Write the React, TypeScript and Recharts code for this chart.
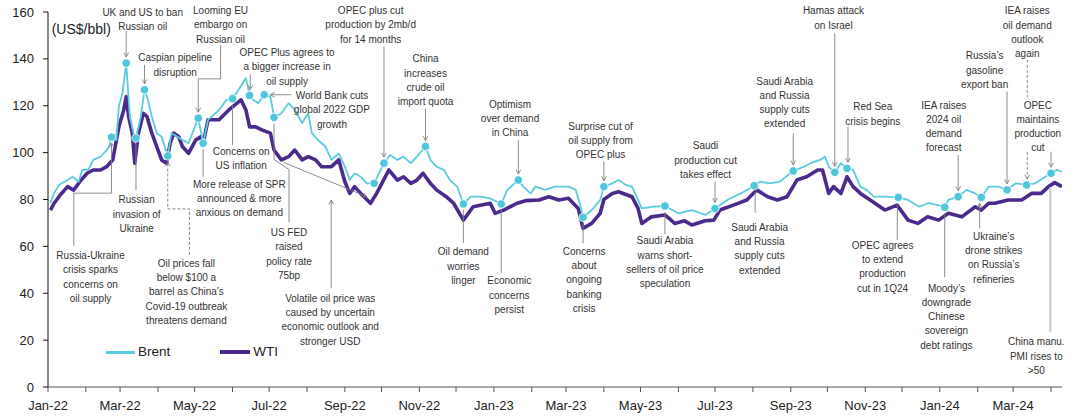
import React from 'react';
import { LineChart, Line, XAxis, YAxis, ReferenceDot, Legend } from 'recharts';

const BRENT = '#5BCBE0';
const WTI = '#4A2A8C';
const DOT = '#4EC6DC';

const brentDates = [
  '2022-01-03','2022-01-06','2022-01-10','2022-01-17','2022-01-21','2022-01-26','2022-01-29',
  '2022-02-03','2022-02-07','2022-02-13','2022-02-17','2022-02-20','2022-02-22','2022-02-26','2022-02-28',
  '2022-03-03','2022-03-06','2022-03-09','2022-03-12','2022-03-14','2022-03-18','2022-03-21','2022-03-23','2022-03-27','2022-03-31',
  '2022-04-04','2022-04-09','2022-04-12','2022-04-17','2022-04-21','2022-04-26',
  '2022-05-04','2022-05-08','2022-05-12','2022-05-21','2022-05-27',
  '2022-06-01','2022-06-06','2022-06-12','2022-06-15','2022-06-18','2022-06-22','2022-06-27',
  '2022-07-02','2022-07-04','2022-07-05','2022-07-11','2022-07-17','2022-07-22','2022-07-28',
  '2022-08-02','2022-08-05','2022-08-10','2022-08-16','2022-08-21','2022-08-27',
  '2022-09-01','2022-09-05','2022-09-09','2022-09-14','2022-09-19','2022-09-25',
  '2022-10-03','2022-10-08','2022-10-14','2022-10-19','2022-10-25','2022-10-30',
  '2022-11-06','2022-11-10','2022-11-15','2022-11-21','2022-11-26',
  '2022-12-02','2022-12-07','2022-12-13','2022-12-21','2022-12-29',
  '2023-01-07','2023-01-12','2023-01-21','2023-01-25','2023-01-31',
  '2023-02-04','2023-02-12','2023-02-20',
  '2023-03-03','2023-03-09','2023-03-13','2023-03-15','2023-03-22','2023-03-29',
  '2023-04-01','2023-04-08','2023-04-13','2023-04-19','2023-04-24','2023-04-29',
  '2023-05-02','2023-05-10','2023-05-21',
  '2023-06-01','2023-06-12','2023-06-23',
  '2023-07-01','2023-07-11','2023-07-22',
  '2023-08-02','2023-08-07','2023-08-15','2023-08-23',
  '2023-09-03','2023-09-12','2023-09-17','2023-09-25','2023-09-29',
  '2023-10-02','2023-10-07','2023-10-12','2023-10-17','2023-10-22','2023-10-28',
  '2023-11-02','2023-11-08','2023-11-17','2023-11-28',
  '2023-12-06','2023-12-15','2023-12-23','2023-12-31',
  '2024-01-05','2024-01-08','2024-01-16','2024-01-23','2024-01-30',
  '2024-02-04','2024-02-10','2024-02-18','2024-02-25',
  '2024-03-03','2024-03-12','2024-03-19',
  '2024-04-01','2024-04-06','2024-04-10',
];
const brentValues = [
  78.4, 82.6, 86.2, 88.3, 89.7, 87.6, 92.6,
  92.6, 96.9, 98.3, 100.4, 102.6, 106.6, 105.4, 119.7,
  125.4, 138.2, 115.4, 108.3, 106.2, 115.4, 126.8, 124, 115.4, 108.3,
  106.8, 98.6, 108.3, 106.8, 105.4, 104,
  114.7, 104, 114, 118.2, 122.5,
  123, 126.8, 131.8, 124.4, 122.5, 121.1, 124.7,
  123.9, 118.2, 115, 116.8, 121.1, 118.2, 112.6,
  116.8, 108.3, 105.4, 102.6, 96.9, 99.7,
  94, 88.3, 91.2, 89.7, 86.9, 86.9,
  95.5, 99, 96.9, 98.3, 95.5, 98.3,
  102.6, 96.9, 94, 92.6, 88.3,
  85.5, 78.1, 81.2, 81.2, 80.5,
  78.1, 84.1, 88.3, 85.5, 82.6,
  85.5, 84.1, 85.5,
  85.5, 84.1, 76.9, 72.4, 75.5, 79.8,
  85.5, 86.9, 88.3, 86.2, 85.5, 79.8,
  76.2, 76.9, 77.2,
  74.1, 75.5, 73.4,
  76.2, 79.8, 82.6,
  85.9, 87.6, 86.9, 87.6,
  92.2, 94, 95.5, 96.9, 98.3,
  94, 91.6, 95.5, 93.3, 92.6, 85.5,
  84.1, 81.2, 81.2, 80.9,
  79.8, 76.9, 78.5, 77.5,
  76.7, 79.8, 81.2, 84.1, 82.6,
  80.9, 85.5, 85.5, 84.1,
  86.9, 86.2, 86.9,
  91.2, 92.6, 91.9,
];

const wtiDates = [
  '2022-01-03','2022-01-06','2022-01-11','2022-01-17','2022-01-22','2022-01-27',
  '2022-02-02','2022-02-07','2022-02-13','2022-02-18','2022-02-23','2022-02-28',
  '2022-03-04','2022-03-06','2022-03-08','2022-03-11','2022-03-13','2022-03-16','2022-03-20','2022-03-23','2022-03-27','2022-03-31',
  '2022-04-04','2022-04-08','2022-04-11','2022-04-14','2022-04-18','2022-04-21','2022-04-26',
  '2022-05-02','2022-05-06','2022-05-08','2022-05-12','2022-05-21','2022-05-29',
  '2022-06-08','2022-06-12','2022-06-15','2022-06-20','2022-06-25',
  '2022-07-02','2022-07-05','2022-07-09','2022-07-11','2022-07-17','2022-07-22','2022-07-28',
  '2022-08-02','2022-08-08','2022-08-13','2022-08-21','2022-08-27',
  '2022-09-01','2022-09-05','2022-09-09','2022-09-14','2022-09-22','2022-09-27',
  '2022-10-07','2022-10-14','2022-10-19','2022-10-25','2022-10-30',
  '2022-11-04','2022-11-10','2022-11-15','2022-11-23','2022-11-29',
  '2022-12-07','2022-12-15','2022-12-29',
  '2023-01-02','2023-01-09','2023-01-20','2023-01-27',
  '2023-02-07','2023-02-15','2023-02-23',
  '2023-03-03','2023-03-11','2023-03-15','2023-03-22','2023-03-29',
  '2023-04-01','2023-04-08','2023-04-13','2023-04-24','2023-04-29',
  '2023-05-02','2023-05-10','2023-05-21','2023-05-29',
  '2023-06-06','2023-06-12','2023-06-23','2023-06-30',
  '2023-07-05','2023-07-16','2023-07-27',
  '2023-08-04','2023-08-13','2023-08-21','2023-08-29',
  '2023-09-06','2023-09-14','2023-09-23','2023-09-27',
  '2023-10-02','2023-10-06','2023-10-12','2023-10-17','2023-10-22','2023-10-28',
  '2023-11-05','2023-11-13','2023-11-17','2023-11-27',
  '2023-12-06','2023-12-14','2023-12-22','2023-12-31',
  '2024-01-08','2024-01-19','2024-01-30',
  '2024-02-04','2024-02-10','2024-02-15','2024-02-26',
  '2024-03-08','2024-03-16','2024-03-24','2024-03-30',
  '2024-04-04','2024-04-10',
];
const wtiValues = [
  75.5, 78.4, 81.9, 85.5, 84, 87.6,
  91.2, 92.6, 92.6, 94, 96.9, 111,
  118.2, 123.9, 115.4, 108.3, 95.5, 108.3, 116.8, 115.4, 108.3, 102.6,
  96.9, 95.5, 104, 108.3, 106.8, 102.6, 99.7,
  105.4, 106.8, 104, 114, 114, 118.2,
  122.5, 118.2, 111, 111, 109.7,
  108.3, 101.1, 98.3, 96.9, 98.3, 101.1, 96.9,
  98.3, 96.9, 94, 94, 96.9,
  87.6, 82.6, 85.5, 82.6, 78.4, 82.6,
  92.6, 88.3, 89.7, 86.9, 88.3,
  91.2, 86.9, 84.1, 81.2, 78.4,
  71.2, 76.9, 78.4,
  74.1, 75.5, 78.4, 79.5,
  79.8, 81.2, 79.8,
  80.5, 76.2, 67.7, 69.8, 74.1,
  80, 82.6, 83.3, 81.2, 76.2,
  69.8, 72.6, 73.4, 69.8,
  70.9, 69.1, 70.9, 71.2,
  75.5, 77.6, 79.8,
  84.1, 81.2, 79.8, 81.2,
  88.3, 89.7, 92.6, 92.6,
  82.6, 85.5, 82.6, 89.7, 85.5, 82.6,
  79.8, 76.9, 75.5, 77.6,
  71.2, 69.8, 72.6, 71.2,
  74.1, 72.6, 76.9,
  75.5, 78.4, 78.4, 79.8,
  79.8, 82.6, 82.6, 85.5,
  87.2, 85.5,
];

const monthTicks = [
  '2022-01-01','2022-02-01','2022-03-01','2022-04-01','2022-05-01','2022-06-01','2022-07-01','2022-08-01','2022-09-01','2022-10-01','2022-11-01','2022-12-01',
  '2023-01-01','2023-02-01','2023-03-01','2023-04-01','2023-05-01','2023-06-01','2023-07-01','2023-08-01','2023-09-01','2023-10-01','2023-11-01','2023-12-01',
  '2024-01-01','2024-02-01','2024-03-01','2024-04-01',
];
const monthLabels = [
  'Jan-22','','Mar-22','','May-22','','Jul-22','','Sep-22','','Nov-22','',
  'Jan-23','','Mar-23','','May-23','','Jul-23','','Sep-23','','Nov-23','',
  'Jan-24','','Mar-24','',
];
const yTicks = [0, 20, 40, 60, 80, 100, 120, 140, 160];

const ts = (d: string) => Date.parse(d + 'T00:00:00Z');
const X_START = ts('2022-01-01');
const X_END = ts('2024-04-10');

const brentData = brentDates.map((d, i) => ({ t: ts(d), v: brentValues[i] }));
const wtiData = wtiDates.map((d, i) => ({ t: ts(d), v: wtiValues[i] }));
const brentAt = (d: string) => brentValues[brentDates.indexOf(d)];
const tickLabelOf = (t: number) => {
  const i = monthTicks.findIndex((m) => ts(m) === t);
  return i >= 0 ? monthLabels[i] : '';
};

type Path = { pts: number[][]; arrow?: boolean; dashed?: boolean; color?: string; width?: number };
type Ann = { date: string; lines: string[]; tx: number; ty: number; paths: Path[]; dot?: boolean };

const annotations: Ann[] = [
  { date: '2022-02-22', lines: ['Russia-Ukraine', 'crisis sparks', 'concerns on', 'oil supply'], tx: -21, ty: 118.4, paths: [{ pts: [[-37.7, 108.7], [-37.7, 56], [0, 56], [0, 6]], arrow: true }] },
  { date: '2022-03-06', lines: ['UK and US to ban', 'Russian oil'], tx: 16.5, ty: -50.6, paths: [{ pts: [[0, -32], [0, -6]], arrow: true }] },
  { date: '2022-03-14', lines: ['Russian', 'invasion of', 'Ukraine'], tx: 0.7, ty: 61.7, paths: [{ pts: [[0, 52], [0, 6]] }] },
  { date: '2022-03-21', lines: ['Caspian pipeline', 'disruption'], tx: 30.7, ty: -32, paths: [{ pts: [[0, -25], [0, -6]], arrow: true }] },
  { date: '2022-04-09', lines: ['Oil prices fall', 'below $100 a', 'barrel as China\u2019s', 'Covid-19 outbreak', 'threatens demand'], tx: 18.7, ty: 107.3, paths: [{ pts: [[21.7, 99], [21.7, 53], [0, 53], [0, 6]], arrow: true, dashed: true }] },
  { date: '2022-05-04', lines: ['Looming EU', 'embargo on', 'Russian oil'], tx: 22.3, ty: -107.6, paths: [{ pts: [[22.3, -73.3], [22.3, -39.3], [0, -39.3], [0, -6]], arrow: true }] },
  { date: '2022-05-08', lines: ['More release of SPR', 'announced & more', 'anxious on demand'], tx: 36.2, ty: 41, paths: [{ pts: [[0, 6], [0, 33.7]] }] },
  { date: '2022-06-01', lines: ['Concerns on', 'US inflation'], tx: 8.7, ty: 52.7, paths: [{ pts: [[0, 6], [0, 46]] }] },
  { date: '2022-06-15', lines: ['OPEC Plus agrees to', 'a bigger increase in', 'oil supply'], tx: 37.5, ty: -43, paths: [{ pts: [[0.7, -21], [0.7, -6]], arrow: true }] },
  { date: '2022-06-27', lines: ['World Bank cuts', 'global 2022 GDP', 'growth'], tx: 67.7, ty: 0.7, paths: [{ pts: [[27, 0], [6, 0]], arrow: true }] },
  { date: '2022-07-05', lines: ['US FED', 'raised', 'policy rate', '75bp'], tx: 15, ty: 115, paths: [{ pts: [[0, 6], [0, 42], [15, 52], [15, 105]] }] },
  { date: '2022-09-25', lines: ['Volatile oil price was', 'caused by uncertain', 'economic outlook and', 'stronger USD'], tx: -44, ty: 114.7, paths: [{ pts: [[-43, 104.7], [-43, 16.7]], arrow: true }, { pts: [[-90.7, -21], [-7.3, 13.4]], arrow: true }] },
  { date: '2022-10-03', lines: ['OPEC plus cut', 'production by 2mb/d', 'for 14 months'], tx: -13.3, ty: -152.6, paths: [{ pts: [[0, -116.6], [0, -6]], arrow: true }] },
  { date: '2022-11-06', lines: ['China', 'increases', 'crude oil', 'import quota'], tx: 0, ty: -87.7, paths: [{ pts: [[0, -38], [0, -6]], arrow: true }] },
  { date: '2022-12-07', lines: ['Oil demand', 'worries', 'linger'], tx: 0, ty: 47.7, paths: [{ pts: [[0, 6], [0, 39]] }] },
  { date: '2023-01-07', lines: ['Economic', 'concerns', 'persist'], tx: 8, ty: 76.7, paths: [{ pts: [[0, 6], [0, 69]] }] },
  { date: '2023-01-21', lines: ['Optimism', 'over demand', 'in China'], tx: -8.3, ty: -76, paths: [{ pts: [[0, -40], [0, -6]], arrow: true }] },
  { date: '2023-03-15', lines: ['Concerns', 'about', 'ongoing', 'banking', 'crisis'], tx: 1, ty: 33.7, paths: [{ pts: [[0, 6], [0, 26]] }] },
  { date: '2023-04-01', lines: ['Surprise cut of', 'oil supply from', 'OPEC plus'], tx: -3.3, ty: -60.7, paths: [{ pts: [[0, -25], [0, -6]], arrow: true }] },
  { date: '2023-05-21', lines: ['Saudi Arabia', 'warns short-', 'sellers of oil price', 'speculation'], tx: 0, ty: 34.7, paths: [{ pts: [[0, 6], [0, 28]] }] },
  { date: '2023-07-01', lines: ['Saudi', 'production cut', 'takes effect'], tx: -9.5, ty: -62.6, paths: [{ pts: [[0, -26.6], [0, -6]], arrow: true }] },
  { date: '2023-08-02', lines: ['Saudi Arabia', 'and Russia', 'supply cuts', 'extended'], tx: 5.5, ty: 41.6, paths: [{ pts: [[1, 6], [1, 27]] }] },
  { date: '2023-09-03', lines: ['Saudi Arabia', 'and Russia', 'supply cuts', 'extended'], tx: -8.6, ty: -90, paths: [{ pts: [[0, -37.7], [0, -6]], arrow: true }] },
  { date: '2023-10-07', lines: ['Hamas attack', 'on Israel'], tx: -1.3, ty: -161.6, paths: [{ pts: [[0, -139], [0, -6]], arrow: true }] },
  { date: '2023-10-17', lines: ['Red Sea', 'crisis begins'], tx: 25.8, ty: -61.6, paths: [{ pts: [[1, -41.6], [1, -6]], arrow: true }] },
  { date: '2023-11-28', lines: ['OPEC agrees', 'to extend', 'production', 'cut in 1Q24'], tx: -15.7, ty: 47.7, paths: [{ pts: [[-1, 6], [-1, 42.7]] }] },
  { date: '2024-01-05', lines: ['Moody\u2019s', 'downgrade', 'Chinese', 'sovereign', 'debt ratings'], tx: 1.7, ty: 80.7, paths: [{ pts: [[0, 6], [0, 70]] }] },
  { date: '2024-01-16', lines: ['IEA raises', '2024 oil', 'demand', 'forecast'], tx: -14.4, ty: -91.7, paths: [{ pts: [[0, -41.7], [0, -6]], arrow: true }] },
  { date: '2024-02-04', lines: ['Ukraine\u2019s', 'drone strikes', 'on Russia\u2019s', 'refineries'], tx: 12.3, ty: 38.7, paths: [{ pts: [[-1.7, 31], [-1.7, 6]], arrow: true }] },
  { date: '2024-02-25', lines: ['Russia\u2019s', 'gasoline', 'export ban'], tx: -22.4, ty: -134, paths: [{ pts: [[0, -98.3], [0, -6]], arrow: true }] },
  { date: '2024-03-12', lines: ['IEA raises', 'oil demand', 'outlook', 'again'], tx: 0.7, ty: -174.3, paths: [{ pts: [[0.7, -125], [0.7, -88]], dashed: true }, { pts: [[0.7, -33], [0.7, -6]], arrow: true, dashed: true }] },
  { date: '2024-04-01', lines: ['OPEC', 'maintains', 'production', 'cut'], tx: -13.2, ty: -68.3, paths: [{ pts: [[0, -21.6], [0, -6]], arrow: true }] },
  { date: '2024-04-01', dot: false, lines: ['China manu.', 'PMI rises to', '>50'], tx: -14.7, ty: 168.4, paths: [{ pts: [[-0.7, 14], [-0.7, 158.7]], color: '#c9c9c9', width: 2 }] },
];

const arrowHead = (p1: number[], p2: number[], size = 5) => {
  const dx = p2[0] - p1[0];
  const dy = p2[1] - p1[1];
  const len = Math.hypot(dx, dy) || 1;
  const ux = dx / len;
  const uy = dy / len;
  const a = 0.5;
  const c = Math.cos(a);
  const s = Math.sin(a);
  const l = [p2[0] - size * (ux * c - uy * s), p2[1] - size * (uy * c + ux * s)];
  const r = [p2[0] - size * (ux * c + uy * s), p2[1] - size * (uy * c - ux * s)];
  return `${l[0]},${l[1]} ${p2[0]},${p2[1]} ${r[0]},${r[1]}`;
};

const AnnotationShape = (props: any) => {
  const { cx, cy, ann } = props;
  if (cx == null || cy == null) return null;
  const a: Ann = ann;
  return (
    <g>
      {a.paths.map((p, i) => {
        const abs = p.pts.map(([x, y]) => [cx + x, cy + y]);
        const color = p.color || '#808080';
        return (
          <g key={i}>
            <polyline
              points={abs.map((q) => q.join(',')).join(' ')}
              fill="none"
              stroke={color}
              strokeWidth={p.width || 0.9}
              strokeDasharray={p.dashed ? '3 2' : undefined}
            />
            {p.arrow && (
              <polyline
                points={arrowHead(abs[abs.length - 2], abs[abs.length - 1])}
                fill="none"
                stroke={color}
                strokeWidth={0.9}
              />
            )}
          </g>
        );
      })}
      {a.dot !== false && <circle cx={cx} cy={cy} r={4.2} fill={DOT} stroke="#ffffff" strokeWidth={0.8} />}
      {a.lines.map((l, j) => (
        <text key={j} x={cx + a.tx} y={cy + a.ty + 3.6 + j * 14.3} textAnchor="middle" fontSize={10} fill="#333333">
          {l}
        </text>
      ))}
    </g>
  );
};

const LegendContent = () => (
  <div style={{ display: 'flex', alignItems: 'center', height: 18, fontSize: 13.5, color: '#222', lineHeight: '18px' }}>
    <span style={{ display: 'inline-block', width: 29, height: 3, background: BRENT }} />
    <span style={{ marginLeft: 3 }}>Brent</span>
    <span style={{ display: 'inline-block', width: 30, height: 4, background: WTI, marginLeft: 50 }} />
    <span style={{ marginLeft: 3 }}>WTI</span>
  </div>
);

export default function App() {
  return (
    <div style={{ position: 'absolute', left: 0, top: 0, width: 1075, height: 416, background: '#fff', fontFamily: "'Liberation Sans', Arial, sans-serif" }}>
      <LineChart width={1075} height={416} margin={{ top: 12, right: 13, bottom: 0, left: 0 }}>
        <XAxis
          dataKey="t"
          type="number"
          domain={[X_START, X_END]}
          ticks={monthTicks.map(ts)}
          tickFormatter={tickLabelOf}
          interval={0}
          height={29}
          tickSize={5}
          tickMargin={9}
          stroke="#555"
          tick={{ fontSize: 13, fill: '#222' }}
          allowDataOverflow
        />
        <YAxis
          type="number"
          domain={[0, 160]}
          ticks={yTicks}
          width={48}
          tickSize={5}
          tickMargin={9}
          stroke="#111"
          tick={{ fontSize: 13, fill: '#222' }}
          allowDataOverflow
        />
        <Line data={wtiData} dataKey="v" type="linear" stroke={WTI} strokeWidth={3.6} dot={false} activeDot={false} isAnimationActive={false} name="WTI" strokeLinejoin="round" />
        <Line data={brentData} dataKey="v" type="linear" stroke={BRENT} strokeWidth={1.8} dot={false} activeDot={false} isAnimationActive={false} name="Brent" strokeLinejoin="round" />
        <ReferenceDot
          x={X_START}
          y={160}
          r={0}
          ifOverflow="visible"
          shape={(p: any) => (
            <text x={p.cx + 3.7} y={p.cy + 22.3} fontSize={14} fill="#222">(US$/bbl)</text>
          )}
        />
        {annotations.map((a, i) => (
          <ReferenceDot
            key={i}
            x={ts(a.date)}
            y={brentAt(a.date)}
            r={4}
            ifOverflow="visible"
            shape={(p: any) => <AnnotationShape {...p} ann={a} />}
          />
        ))}
        <Legend
          layout="vertical"
          align="center"
          verticalAlign="middle"
          content={LegendContent}
          wrapperStyle={{ position: 'absolute', left: 106, top: 343, width: 220, height: 18, margin: 0 }}
        />
      </LineChart>
    </div>
  );
}
